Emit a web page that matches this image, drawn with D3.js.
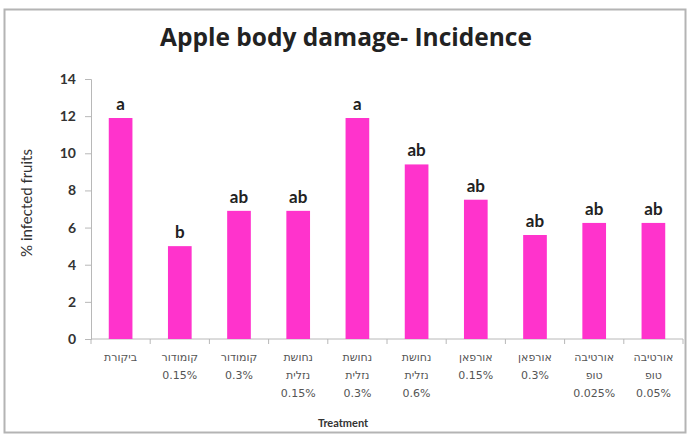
<!DOCTYPE html>
<html>
<head>
<meta charset="utf-8">
<title>Apple body damage- Incidence</title>
<script src="https://cdn.jsdelivr.net/npm/d3@7"></script>
<style>
  body { margin: 0; background: #fff; }
</style>
</head>
<body>
<script>
// treatments (Hebrew labels, one entry per line)
var treatments = [
  ["ביקורת"],
  ["קומודור", "0.15%"],
  ["קומודור", "0.3%"],
  ["נחושת", "נזלית", "0.15%"],
  ["נחושת", "נזלית", "0.3%"],
  ["נחושת", "נזלית", "0.6%"],
  ["אורפאן", "0.15%"],
  ["אורפאן", "0.3%"],
  ["אורטיבה", "טופ", "0.025%"],
  ["אורטיבה", "טופ", "0.05%"]
]
var incidence = [11.9, 5.0, 6.9, 6.9, 11.9, 9.4, 7.5, 5.6, 6.25, 6.25]
var letters = ["a", "b", "ab", "ab", "a", "ab", "ab", "ab", "ab", "ab"]
var yTicks = [0, 2, 4, 6, 8, 10, 12, 14]

var w = 687, h = 435
var svg = d3.select("body").append("svg").attr("width", w).attr("height", h)

// outer frame
svg.append("rect")
  .attr("x", 4.5).attr("y", 9.5)
  .attr("width", 681).attr("height", 423)
  .attr("fill", "#fff")
  .attr("stroke", "#b4b4b4")
  .attr("stroke-width", 2)

var idx = d3.range(incidence.length)

var xScale = d3.scaleBand().domain(idx).range([91, 683]).paddingInner(0.6).paddingOuter(0.3)
var xEdge = d3.scaleLinear().domain([0, incidence.length]).range([91, 683])
var yScale = d3.scaleLinear().domain([0, 14]).range([339, 79])

// y axis
var yAxis = d3.axisLeft(yScale).tickValues(yTicks).tickSize(6).tickPadding(9)
var gy = svg.append("g").attr("transform", "translate(91,0)").call(yAxis)
gy.select(".domain").attr("stroke", "#b8b8b8")
gy.selectAll(".tick line").attr("stroke", "#b8b8b8")
gy.selectAll(".tick text")
  .attr("fill", "#333")
  .attr("font-family", "Lato, 'Open Sans', sans-serif")
  .attr("font-weight", "bold")
  .attr("font-size", 14)

// x axis baseline with ticks between categories
var gx = svg.append("g").attr("transform", "translate(0,339)")
gx.append("line").attr("x1", 91).attr("x2", 683).attr("stroke", "#b8b8b8")
gx.selectAll(".xt")
  .data(d3.range(incidence.length + 1))
  .enter()
  .append("line")
  .attr("x1", function(d){ return xEdge(d) })
  .attr("x2", function(d){ return xEdge(d) })
  .attr("y1", 0).attr("y2", 5)
  .attr("stroke", "#b8b8b8")

// bars
svg.selectAll(".bar")
  .data(idx)
  .enter()
  .append("rect")
  .attr("x", function(i){ return xScale(i) })
  .attr("width", xScale.bandwidth())
  .attr("y", function(i){ return yScale(incidence[i]) })
  .attr("height", function(i){ return yScale(0) - yScale(incidence[i]) })
  .attr("fill", "#ff33cc")

// significance letters
svg.selectAll(".sig")
  .data(idx)
  .enter()
  .append("text")
  .text(function(i){ return letters[i] })
  .attr("x", function(i){ return xScale(i) + xScale.bandwidth() / 2 })
  .attr("y", function(i){ return yScale(incidence[i]) - 8 })
  .attr("text-anchor", "middle")
  .attr("font-family", "Lato, 'Open Sans', sans-serif")
  .attr("font-weight", "bold")
  .attr("font-size", 17)
  .attr("fill", "#222")

// category labels
var cat = svg.selectAll(".cat")
  .data(idx)
  .enter()
  .append("text")
  .attr("text-anchor", "middle")
  .attr("font-family", "'DejaVu Sans', sans-serif")
  .attr("font-size", 11)
  .attr("fill", "#555")
cat.selectAll("tspan")
  .data(function(i){ return treatments[i].map(function(t){ return { i: i, t: t } }) })
  .enter()
  .append("tspan")
  .attr("x", function(d){ return xScale(d.i) + xScale.bandwidth() / 2 })
  .attr("y", function(d, k){ return 361 + k * 18 })
  .text(function(d){ return d.t })

// titles
svg.append("text")
  .text("Apple body damage- Incidence")
  .attr("x", 346).attr("y", 46)
  .attr("text-anchor", "middle")
  .attr("font-family", "'Open Sans', Lato, sans-serif")
  .attr("font-weight", "bold")
  .attr("font-size", 24.5)
  .attr("fill", "#222")

svg.append("text")
  .text("% infected fruits")
  .attr("transform", "translate(32,203) rotate(-90)")
  .attr("text-anchor", "middle")
  .attr("font-family", "Lato, 'Open Sans', sans-serif")
  .attr("font-size", 15)
  .attr("fill", "#333")

svg.append("text")
  .text("Treatment")
  .attr("x", 343).attr("y", 427)
  .attr("text-anchor", "middle")
  .attr("font-family", "Lato, 'Open Sans', sans-serif")
  .attr("font-weight", "bold")
  .attr("font-size", 11)
  .attr("fill", "#333")
</script>
</body>
</html>
